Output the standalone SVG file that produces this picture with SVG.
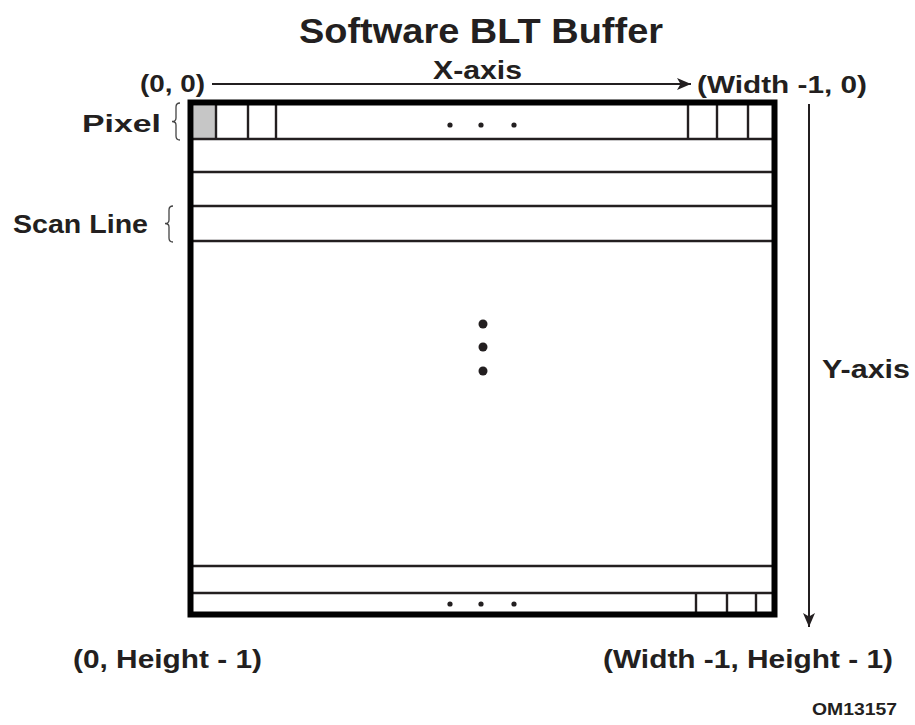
<svg xmlns="http://www.w3.org/2000/svg" width="915" height="725" viewBox="0 0 915 725">
<defs>
<style>
.t{font-family:"Liberation Sans",Arial,sans-serif;font-weight:bold;fill:#231f20}
.ln{stroke:#231f20;stroke-width:2.4;fill:none}
.br{stroke:#444;stroke-width:1.3;fill:none}
.ax{stroke:#231f20;stroke-width:2;fill:none}
</style>
<marker id="ah" viewBox="0 0 14 12" refX="14" refY="6" markerWidth="14" markerHeight="12" markerUnits="userSpaceOnUse" orient="auto">
<path d="M0,0 L14,6 L0,12 L3.5,6 z" fill="#231f20"/>
</marker>
</defs>
<rect width="915" height="725" fill="#fff"/>
<text class="t" x="299" y="43" font-size="35" textLength="364" lengthAdjust="spacingAndGlyphs">Software BLT Buffer</text>
<g id="connectors">
<line class="ax" x1="212" y1="84" x2="691" y2="84" marker-end="url(#ah)"/>
<line class="ax" x1="809" y1="104" x2="809" y2="627" marker-end="url(#ah)"/>
</g>
<g id="xaxis"><text class="t" x="433" y="79" font-size="25" textLength="89" lengthAdjust="spacingAndGlyphs">X-axis</text></g>
<g id="origin"><text class="t" x="140" y="92" font-size="23" textLength="65" lengthAdjust="spacingAndGlyphs">(0, 0)</text></g>
<g id="topright"><text class="t" x="697" y="93" font-size="24" textLength="170" lengthAdjust="spacingAndGlyphs">(Width -1, 0)</text></g>
<g id="yaxis"><text class="t" x="822" y="378" font-size="25" textLength="88" lengthAdjust="spacingAndGlyphs">Y-axis</text></g>
<g id="bottomleft"><text class="t" x="73" y="668" font-size="25" textLength="189" lengthAdjust="spacingAndGlyphs">(0, Height - 1)</text></g>
<g id="bottomright"><text class="t" x="603" y="668" font-size="25" textLength="290" lengthAdjust="spacingAndGlyphs">(Width -1, Height - 1)</text></g>
<g id="code"><text class="t" x="812" y="715" font-size="17" textLength="85" lengthAdjust="spacingAndGlyphs">OM13157</text></g>
<g id="pixel-label">
<text class="t" x="82" y="132" font-size="24" textLength="79" lengthAdjust="spacingAndGlyphs">Pixel</text>
<path class="br" d="M180,103 Q176,103 176,107 V118 Q176,121.5 172,121.5 Q176,121.5 176,125 V136 Q176,140 180,140"/>
</g>
<g id="scanline-label">
<text class="t" x="13" y="233" font-size="25" textLength="135" lengthAdjust="spacingAndGlyphs">Scan Line</text>
<path class="br" d="M173,206 Q169,206 169,210 V220 Q169,223.5 165,223.5 Q169,223.5 169,227 V238 Q169,242 173,242"/>
</g>
<g id="buffer">
<rect x="193.5" y="105.5" width="23" height="33" fill="#c6c6c6"/>
<line class="ln" x1="193" y1="139" x2="772" y2="139"/>
<line class="ln" x1="193" y1="172" x2="772" y2="172"/>
<line class="ln" x1="193" y1="206" x2="772" y2="206"/>
<line class="ln" x1="193" y1="241" x2="772" y2="241"/>
<line class="ln" x1="193" y1="566" x2="772" y2="566"/>
<line class="ln" x1="193" y1="593" x2="772" y2="593"/>
<line class="ln" x1="216" y1="105" x2="216" y2="139"/>
<line class="ln" x1="248" y1="105" x2="248" y2="139"/>
<line class="ln" x1="276" y1="105" x2="276" y2="139"/>
<line class="ln" x1="688" y1="105" x2="688" y2="139"/>
<line class="ln" x1="717" y1="105" x2="717" y2="139"/>
<line class="ln" x1="748" y1="105" x2="748" y2="139"/>
<line class="ln" x1="696" y1="593" x2="696" y2="612"/>
<line class="ln" x1="727" y1="593" x2="727" y2="612"/>
<line class="ln" x1="756" y1="593" x2="756" y2="612"/>
<rect x="190.5" y="102.5" width="584" height="512" fill="none" stroke="#000" stroke-width="6"/>
<g fill="#231f20">
<circle cx="450" cy="125" r="2.6"/><circle cx="481" cy="125" r="2.6"/><circle cx="514" cy="125" r="2.6"/>
<circle cx="450" cy="604" r="2.6"/><circle cx="481" cy="604" r="2.6"/><circle cx="514" cy="604" r="2.6"/>
<circle cx="483" cy="324" r="4.5"/><circle cx="483" cy="347" r="4.5"/><circle cx="483" cy="371" r="4.5"/>
</g>
</g>
</svg>
